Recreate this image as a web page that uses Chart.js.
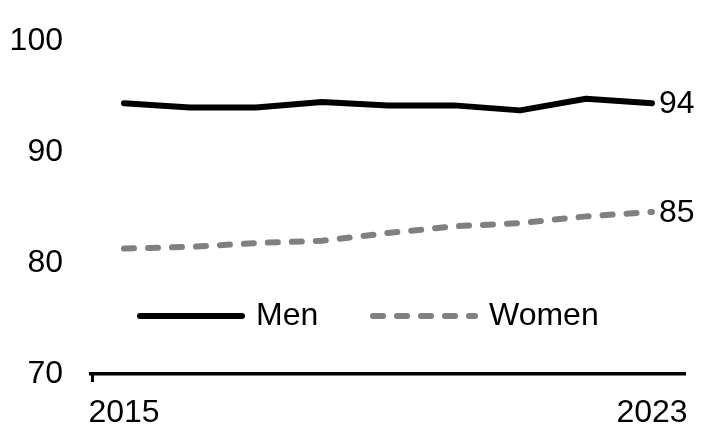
<!DOCTYPE html>
<html>
<head>
<meta charset="utf-8">
<script src="https://cdn.jsdelivr.net/npm/chart.js@4/dist/chart.umd.min.js"></script>
<style>
    html, body { margin: 0; padding: 0; background: #fff; }
    #wrap { width: 709px; height: 438px; position: relative; }
</style>
</head>
<body>
<div id="wrap"><canvas id="lineChart"></canvas></div>
<script>
const years = ['2015', '2016', '2017', '2018', '2019', '2020', '2021', '2022', '2023'];
const menValues = [94.4, 94.0, 94.0, 94.5, 94.2, 94.2, 93.75, 94.8, 94.4];
const womenValues = [81.3, 81.45, 81.8, 82.0, 82.7, 83.3, 83.6, 84.2, 84.6];
const shownYears = ['2015', '2023'];

const FONT = '"Liberation Sans", Arial, sans-serif';
Chart.defaults.font.family = FONT;
Chart.defaults.color = '#000';

// end-of-line value labels + legend inside the plot + left tick mark
const extrasPlugin = {
    id: 'extras',
    afterDatasetsDraw(chart) {
        const ctx = chart.ctx;
        const area = chart.chartArea;
        ctx.save();
        ctx.font = '32px ' + FONT;
        ctx.fillStyle = '#000';
        ctx.textBaseline = 'middle';
        ctx.textAlign = 'left';

        chart.data.datasets.forEach((ds, i) => {
            const meta = chart.getDatasetMeta(i);
            const last = meta.data[meta.data.length - 1];
            const val = ds.data[ds.data.length - 1];
            ctx.fillText(Math.round(val).toString(), last.x + 7, last.y + 1);
        });

        // legend
        const legendY = area.top + 275;
        const items = [
            { x: area.left + 46 },
            { x: area.left + 279 }
        ];
        chart.data.datasets.forEach((ds, i) => {
            const x0 = items[i].x;
            ctx.beginPath();
            ctx.strokeStyle = ds.borderColor;
            ctx.lineWidth = ds.borderWidth;
            ctx.lineCap = ds.borderCapStyle || 'butt';
            ctx.setLineDash(ds.borderDash || []);
            ctx.moveTo(x0 + 3, legendY);
            ctx.lineTo(x0 + 105, legendY);
            ctx.stroke();
            ctx.setLineDash([]);
            ctx.fillText(ds.label, x0 + 119, legendY);
        });

        // small tick at left end of x axis
        ctx.beginPath();
        ctx.strokeStyle = '#000';
        ctx.lineWidth = 3;
        ctx.lineCap = 'butt';
        ctx.moveTo(area.left + 1.5, area.bottom);
        ctx.lineTo(area.left + 1.5, area.bottom + 8);
        ctx.stroke();
        ctx.restore();
    }
};

const ctx = document.getElementById('lineChart').getContext('2d');
new Chart(ctx, {
    type: 'line',
    data: {
        labels: years,
        datasets: [
            {
                label: 'Men',
                data: menValues,
                borderColor: '#000000',
                borderWidth: 6,
                borderCapStyle: 'round',
                borderJoinStyle: 'round',
                pointRadius: 0,
                tension: 0,
                fill: false
            },
            {
                label: 'Women',
                data: womenValues,
                borderColor: '#808080',
                borderWidth: 6,
                borderDash: [10, 14],
                borderCapStyle: 'round',
                borderJoinStyle: 'round',
                pointRadius: 0,
                tension: 0,
                fill: false
            }
        ]
    },
    options: {
        responsive: true,
        maintainAspectRatio: false,
        animation: false,
        layout: { padding: { top: 41, right: 24, left: 0, bottom: 0 } },
        plugins: {
            legend: { display: false },
            tooltip: { enabled: false }
        },
        scales: {
            x: {
                offset: true,
                grid: { display: false, drawTicks: false },
                border: { display: true, color: '#000', width: 3.5 },
                afterFit: scale => {
                    scale.height = 64;
                    scale.paddingLeft = 0;
                    scale.paddingRight = 0;
                },
                ticks: {
                    autoSkip: false,
                    maxRotation: 0,
                    padding: 20,
                    font: { size: 32 },
                    color: '#000',
                    callback: function (value) {
                        const lab = this.getLabelForValue(value);
                        return shownYears.includes(lab) ? lab : '';
                    }
                }
            },
            y: {
                min: 70,
                max: 100,
                grid: { display: false, drawTicks: false },
                border: { display: false },
                afterFit: scale => {
                    scale.width = 91;
                    scale.paddingTop = 0;
                    scale.paddingBottom = 0;
                },
                ticks: {
                    stepSize: 10,
                    padding: 28,
                    font: { size: 32 },
                    color: '#000'
                }
            }
        }
    },
    plugins: [extrasPlugin]
});
</script>
</body>
</html>
